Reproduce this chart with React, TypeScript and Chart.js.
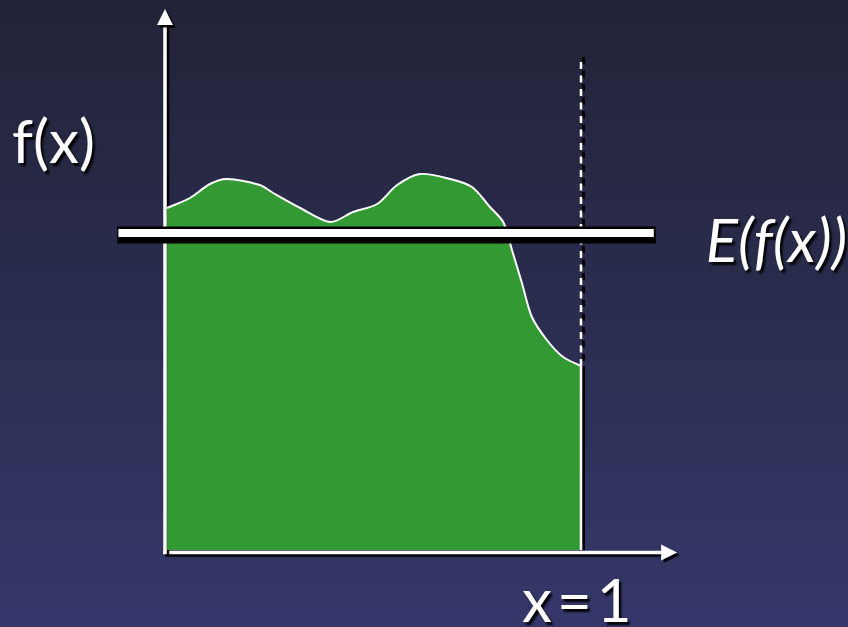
import React, { useEffect, useRef } from "react";
import { Chart, registerables } from "chart.js";

Chart.register(...registerables);

// f(x) sampled on [0, 1]
const xs = [0.005, 0.06, 0.108, 0.149, 0.228, 0.26, 0.325, 0.397, 0.452, 0.51, 0.558, 0.613, 0.685, 0.738, 0.781, 0.813, 0.834, 0.858, 0.882, 0.918, 0.957, 1.0];
const fx = [3.42, 3.52, 3.66, 3.71, 3.65, 3.57, 3.42, 3.28, 3.38, 3.46, 3.65, 3.76, 3.71, 3.63, 3.43, 3.28, 3.0, 2.67, 2.33, 2.1, 1.93, 1.84];

// expected value of f(x)
const meanValue = 3.17;
const meanSpan = [-0.115, 1.175];

// x = 1 marker
const xEnd = 1;
const markerTop = 4.93;

// axis extents
const xAxisEnd = 1.231;
const yAxisEnd = 5.41;

const yLabel = "f(x)";
const meanLabel = "E(f(x))";
const xLabel = "x=1";

const FONT = "Lato, 'Open Sans', sans-serif";

const axesPlugin = {
  id: "arrowAxes",
  beforeDatasetsDraw(chart: any) {
    const { ctx, scales } = chart;
    const sx = scales.x;
    const sy = scales.y;
    const x0 = sx.getPixelForValue(0);
    const y0 = sy.getPixelForValue(0) + 2.5;
    const xR = sx.getPixelForValue(xAxisEnd);
    const yT = sy.getPixelForValue(yAxisEnd);
    ctx.save();
    ctx.shadowColor = "rgba(0,0,0,0.95)";
    ctx.shadowOffsetX = 2.5;
    ctx.shadowOffsetY = 2.5;
    ctx.shadowBlur = 1;
    ctx.strokeStyle = "#ffffff";
    ctx.fillStyle = "#ffffff";
    ctx.lineWidth = 3.5;
    // horizontal axis
    ctx.beginPath();
    ctx.moveTo(x0 - 2, y0);
    ctx.lineTo(xR - 14, y0);
    ctx.stroke();
    ctx.beginPath();
    ctx.moveTo(xR, y0);
    ctx.lineTo(xR - 16, y0 - 8);
    ctx.lineTo(xR - 16, y0 + 8);
    ctx.closePath();
    ctx.fill();
    // vertical axis
    ctx.beginPath();
    ctx.moveTo(x0, y0 + 1.5);
    ctx.lineTo(x0, yT + 14);
    ctx.stroke();
    ctx.beginPath();
    ctx.moveTo(x0, yT);
    ctx.lineTo(x0 - 8, yT + 16);
    ctx.lineTo(x0 + 8, yT + 16);
    ctx.closePath();
    ctx.fill();
    ctx.restore();
  },
  afterDraw(chart: any) {
    const { ctx, scales } = chart;
    const sx = scales.x;
    const sy = scales.y;
    ctx.save();
    ctx.shadowColor = "rgba(0,0,0,0.9)";
    ctx.shadowOffsetX = 2.5;
    ctx.shadowOffsetY = 2.5;
    ctx.shadowBlur = 2;
    ctx.fillStyle = "#ffffff";
    ctx.textBaseline = "alphabetic";
    ctx.textAlign = "left";
    ctx.font = `400 60px ${FONT}`;
    ctx.fillText(yLabel, 12, 163);
    ctx.font = `italic 400 60px ${FONT}`;
    ctx.fillText(meanLabel, sx.getPixelForValue(meanSpan[1]) + 52, sy.getPixelForValue(meanValue) + 29);
    ctx.font = `400 60px ${FONT}`;
    (ctx as any).letterSpacing = "5px";
    ctx.fillText(xLabel, 522, 622);
    ctx.restore();
  },
};

export default function App() {
  const ref = useRef<HTMLCanvasElement | null>(null);

  useEffect(() => {
    document.body.style.margin = "0";
    const canvas = ref.current;
    if (!canvas) return;
    const curve = xs.map((x, i) => ({ x, y: fx[i] }));
    const fEnd = fx[fx.length - 1];
    const shadowDx = 2.5 / 416;
    const chart = new Chart(canvas, {
      type: "line",
      data: {
        datasets: [
          {
            label: "f(x)",
            data: curve,
            fill: "origin",
            backgroundColor: "#339933",
            borderColor: "#ffffff",
            borderWidth: 2,
            tension: 0.3,
            pointRadius: 0,
            order: 10,
          },
          {
            label: "x=1 shadow",
            data: [
              { x: xEnd + shadowDx, y: 0 },
              { x: xEnd + shadowDx, y: markerTop },
            ],
            borderColor: "#000000",
            borderWidth: 3,
            borderDash: [7, 6.5],
            pointRadius: 0,
            fill: false,
            order: 9,
          },
          {
            label: "x=1 base",
            data: [
              { x: xEnd + shadowDx, y: 0 },
              { x: xEnd + shadowDx, y: fEnd },
            ],
            borderColor: "#000000",
            borderWidth: 3,
            pointRadius: 0,
            fill: false,
            order: 8,
          },
          {
            label: "x=1 dashed",
            data: [
              { x: xEnd, y: fEnd },
              { x: xEnd, y: markerTop },
            ],
            borderColor: "#ffffff",
            borderWidth: 2.5,
            borderDash: [7, 6.5],
            pointRadius: 0,
            fill: false,
            order: 7,
          },
          {
            label: "x=1 solid",
            data: [
              { x: xEnd, y: 0 },
              { x: xEnd, y: fEnd },
            ],
            borderColor: "#ffffff",
            borderWidth: 2.5,
            pointRadius: 0,
            fill: false,
            order: 6,
          },
          {
            label: "E outline",
            data: [
              { x: meanSpan[0], y: meanValue - 0.02 },
              { x: meanSpan[1] + 0.005, y: meanValue - 0.02 },
            ],
            borderColor: "#000000",
            borderWidth: 17,
            borderCapStyle: "butt",
            pointRadius: 0,
            fill: false,
            order: 2,
          },
          {
            label: "E(f(x))",
            data: [
              { x: meanSpan[0] + 0.003, y: meanValue },
              { x: meanSpan[1], y: meanValue },
            ],
            borderColor: "#ffffff",
            borderWidth: 8,
            borderCapStyle: "butt",
            pointRadius: 0,
            fill: false,
            order: 1,
          },
        ],
      },
      options: {
        animation: false,
        responsive: false,
        maintainAspectRatio: false,
        layout: { padding: 0 },
        events: [],
        scales: {
          x: { type: "linear", display: false, min: -165 / 416, max: (848 - 165) / 416 },
          y: { type: "linear", display: false, min: (550 - 627) / 100, max: 550 / 100 },
        },
        plugins: {
          legend: { display: false },
          tooltip: { enabled: false },
        },
      },
      plugins: [axesPlugin],
    });
    return () => chart.destroy();
  }, []);

  return (
    <div
      style={{
        width: 848,
        height: 627,
        background: "linear-gradient(180deg, #222338 0%, #2b2d4f 50%, #35376a 100%)",
        overflow: "hidden",
      }}
    >
      <canvas ref={ref} width={848} height={627} style={{ display: "block" }} />
    </div>
  );
}
